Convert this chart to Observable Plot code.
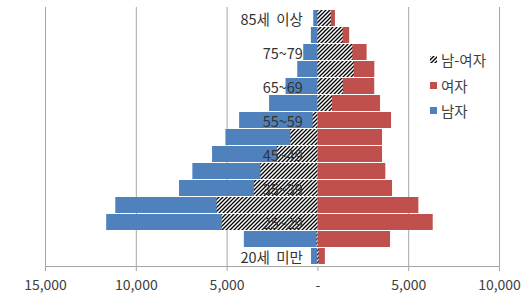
<!DOCTYPE html>
<html><head><meta charset="utf-8">
<script src="https://cdn.jsdelivr.net/npm/d3@7"></script>
<script src="https://cdn.jsdelivr.net/npm/@observablehq/plot@0.6"></script>
<style>
body{margin:0;background:#fff;font-family:"Noto Sans CJK KR",sans-serif}
#wrap{position:relative;width:529px;height:298px}
.legend{position:absolute;left:430px;top:46.5px;font-size:14.5px;color:#404040;font-family:"Noto Sans CJK KR",sans-serif}
.legend div{height:25.7px;display:flex;align-items:center;white-space:nowrap}
.sw{width:7px;height:7px;margin-right:4px;display:inline-block;flex:none}
.catlab text{word-spacing:3px}
</style></head>
<body><div id="wrap"></div>
<script>
const categories = ["85세 이상","80~84","75~79","70~74","65~69","60~64","55~59","50~54","45~49","40~44","35~39","30~34","25~29","20~24","20세 미만"];
const male   = [230, 360, 780, 1110, 1755, 2660, 4310, 5065, 5800, 6885, 7620, 11130, 11630, 4050, 350];
const female = [965, 1750, 2710, 3135, 3130, 3450, 4055, 3560, 3560, 3740, 4110, 5560, 6350, 4000, 410];
const diff   = [740, 1390, 1925, 2000, 1400, 805, -265, -1490, -2220, -3140, -3500, -5550, -5270, -50, 60];
const shownLabels = ["85세 이상","75~79","65~69","55~59","45~49","35~39","25~29","20세 미만"];
const xTicks = [-15000, -10000, -5000, 0, 5000, 10000];
const seriesNames = ["남-여자", "여자", "남자"];
const seriesColors = ["url(#hatch)", "#C0504D", "#4F81BD"];

const rows = categories.map((c, i) => ({cat: c, male: -male[i], female: female[i], diff: diff[i]}));
const font = '"Noto Sans CJK KR", sans-serif';

const plot = Plot.plot({
  width: 529, height: 298,
  marginLeft: 45, marginRight: 30, marginTop: 7, marginBottom: 32,
  style: {fontFamily: font, fontSize: "14px", background: "#fff", color: "#404040"},
  x: {domain: [-15000, 10000]},
  y: {domain: categories, padding: 0.075, axis: null},
  marks: [
    Plot.gridX(xTicks.filter(d => d !== 0), {stroke: "#a6a6a6", strokeOpacity: 1}),
    Plot.barX(rows, {y: "cat", x1: () => 0, x2: "female", fill: seriesColors[1]}),
    Plot.barX(rows, {y: "cat", x1: () => 0, x2: "male", fill: seriesColors[2]}),
    Plot.barX(rows, {y: "cat", x1: () => 0, x2: "diff", fill: seriesColors[0]}),
    Plot.text(rows.filter(r => shownLabels.includes(r.cat)), {y: "cat", x: () => 0, text: "cat", textAnchor: "end", dx: -15, dy: 2, fill: "#333", fontSize: 14.5, fontFamily: font, className: "catlab"}),
    Plot.axisX({ticks: xTicks, tickSize: 5, tickPadding: 9, stroke: "#a6a6a6", fill: "#404040", fontSize: 14, fontFamily: font,
      tickFormat: d => d === 0 ? "-" : d3.format(",")(Math.abs(d))}),
    Plot.frame({anchor: "bottom", stroke: "#a6a6a6"})
  ]
});

d3.select(plot).insert("defs", ":first-child").html(
  `<pattern id="hatch" patternUnits="userSpaceOnUse" width="4" height="4">
     <rect width="4" height="4" fill="#fff"/>
     <path d="M-1,1 l2,-2 M0,4 l4,-4 M3,5 l2,-2" stroke="#000" stroke-width="1.3"/>
   </pattern>`);

const wrap = document.getElementById("wrap");
wrap.appendChild(plot);

const legend = document.createElement("div");
legend.className = "legend";
seriesNames.forEach((name, i) => {
  const row = document.createElement("div");
  const sw = i === 0
    ? `<svg class="sw" width="7" height="7"><rect width="7" height="7" fill="url(#hatch)"/></svg>`
    : `<span class="sw" style="background:${seriesColors[i]}"></span>`;
  row.innerHTML = sw + `<span>${name}</span>`;
  legend.appendChild(row);
});
wrap.appendChild(legend);
</script>
</body></html>
